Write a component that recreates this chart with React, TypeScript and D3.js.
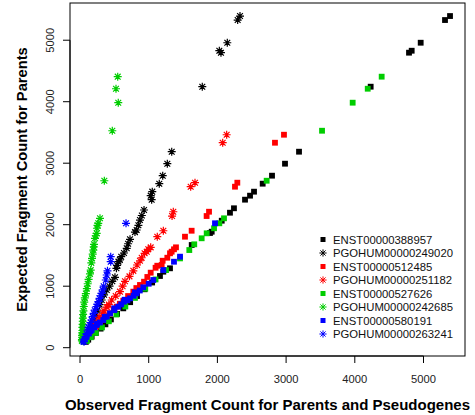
import React from "react";
import * as d3 from "d3";

const W = 475;
const H = 415;

const xTicks = [0, 1000, 2000, 3000, 4000, 5000];
const yTicks = [0, 1000, 2000, 3000, 4000, 5000];

const xTitle = "Observed Fragment Count for Parents and Pseudogenes";
const yTitle = "Expected Fragment Count for Parents";

const seriesNames = [
  "ENST00000388957",
  "PGOHUM00000249020",
  "ENST00000512485",
  "PGOHUM00000251182",
  "ENST00000527626",
  "PGOHUM00000242685",
  "ENST00000580191",
  "PGOHUM00000263241",
];

// [observed, expected]
const ENST388957: [number, number][] = [
  [5386, 5393], [5313, 5328], [4959, 4959], [4828, 4829], [4789, 4797], [4231, 4244],
  [3188, 3187], [2984, 2992], [2795, 2797], [2659, 2667], [2533, 2537], [2475, 2472],
  [2402, 2407], [2241, 2267], [2183, 2195], [2063, 2065], [1917, 1886], [1892, 1865],
  [1626, 1670], [1310, 1291], [1213, 1236], [1164, 1166], [1050, 1060], [940, 950],
  [830, 840], [730, 740], [630, 640], [540, 550], [450, 460], [370, 380], [300, 310],
  [230, 240], [170, 180], [120, 130], [85, 95],
];

const PGOHUM249020: [number, number][] = [
  [2329, 5393], [2295, 5328], [2144, 4959], [2028, 4829], [2052, 4797], [1780, 4244],
  [1335, 3187], [1271, 2992], [1204, 2797], [1154, 2667], [1052, 2537], [1029, 2472],
  [1043, 2407], [932, 2239], [900, 2150], [873, 2076], [850, 1990], [825, 1914],
  [800, 1880], [728, 1763], [700, 1690], [680, 1616], [640, 1540], [600, 1480],
  [580, 1426], [560, 1400], [540, 1340], [530, 1291], [509, 1145], [470, 1080],
  [430, 1000], [389, 938], [350, 860], [316, 776], [285, 700], [255, 613], [230, 530],
  [210, 450], [185, 390], [160, 340], [140, 290], [120, 250], [100, 200], [85, 160],
  [70, 110],
];

const ENST512485: [number, number][] = [
  [2969, 3463], [2838, 3333], [2290, 2683], [2256, 2618], [1878, 2211], [1843, 2141],
  [1625, 1902], [1528, 1805], [1397, 1632], [1368, 1600], [1334, 1561], [1310, 1535],
  [1271, 1463], [1203, 1414], [1189, 1345], [1125, 1333], [1100, 1300], [1029, 1220],
  [980, 1150], [932, 1073], [873, 1020], [820, 970], [776, 911], [700, 840], [630, 764],
  [580, 715], [534, 667], [490, 610], [437, 559], [390, 505], [339, 450], [290, 395],
  [243, 341], [200, 300], [156, 260], [120, 210], [95, 170],
];

const PGOHUM251182: [number, number][] = [
  [2135, 3463], [2077, 3333], [1674, 2683], [1611, 2618], [1358, 2211], [1340, 2141],
  [1213, 1902], [1125, 1805], [1029, 1632], [994, 1600], [971, 1561], [940, 1535],
  [898, 1463], [873, 1414], [830, 1345], [776, 1250], [720, 1160], [655, 1080],
  [620, 1000], [582, 911], [520, 840], [461, 776], [420, 700], [390, 660], [350, 600],
  [330, 560], [290, 500], [265, 450], [230, 400], [200, 340], [175, 300], [150, 260],
  [120, 210], [100, 170],
];

const ENST527626: [number, number][] = [
  [4391, 4407], [4188, 4211], [3969, 3984], [3523, 3528], [2717, 2715], [2096, 2104],
  [2028, 2023], [1951, 1942], [1844, 1860], [1771, 1779], [1663, 1681], [1591, 1588],
  [1456, 1452], [1252, 1262], [1100, 1110], [950, 960], [800, 810], [660, 670],
  [530, 540], [420, 430], [320, 330], [230, 240], [160, 170], [100, 110],
];

const PGOHUM242685: [number, number][] = [
  [549, 4407], [524, 4211], [557, 3984], [470, 3528], [354, 2715], [291, 2104],
  [266, 2023], [255, 1990], [247, 1942], [243, 1860], [230, 1820], [218, 1779],
  [204, 1681], [200, 1640], [194, 1588], [185, 1520], [175, 1452], [165, 1380],
  [156, 1262], [145, 1200], [125, 1110], [112, 1040], [100, 960], [85, 880], [70, 810],
  [62, 740], [55, 670], [50, 600], [45, 540], [42, 480], [40, 430], [38, 380],
  [35, 330], [35, 280], [32, 240], [30, 200], [30, 170], [28, 130], [28, 110],
];

const ENST580191: [number, number][] = [
  [1965, 2023], [1456, 1480], [1368, 1398], [1213, 1263], [1067, 1101], [1000, 1040],
  [921, 982], [870, 930], [825, 884], [800, 900], [780, 845], [728, 803], [690, 770],
  [650, 780], [640, 748], [600, 705], [558, 667], [500, 640], [500, 610], [437, 559],
  [390, 505], [360, 500], [339, 450], [290, 410], [250, 390], [243, 369], [210, 330],
  [170, 288], [150, 270], [130, 230], [97, 179], [70, 140], [48, 98],
];

const PGOHUM263241: [number, number][] = [
  [670, 2023], [447, 1480], [447, 1398], [400, 1250], [389, 1182], [375, 1101],
  [345, 1000], [330, 940], [315, 884], [300, 845], [285, 803], [270, 748], [255, 705],
  [240, 667], [215, 610], [200, 559], [185, 505], [170, 450], [155, 410], [140, 369],
  [125, 330], [112, 288], [95, 230], [82, 179], [70, 140], [58, 98],
];

const seriesData = [
  ENST388957, PGOHUM249020, ENST512485, PGOHUM251182,
  ENST527626, PGOHUM242685, ENST580191, PGOHUM263241,
];
const seriesColors = ["#000000", "#000000", "#FF0000", "#FF0000", "#00CD00", "#00CD00", "#0000FF", "#0000FF"];
const seriesShapes = ["square", "star", "square", "star", "square", "star", "square", "star"];

const FONT = "'Liberation Sans', Arial, Helvetica, sans-serif";

function starPath(r: number) {
  const d = r * 0.72;
  return `M${-r},0H${r}M0,${-r}V${r}M${-d},${-d}L${d},${d}M${-d},${d}L${d},${-d}`;
}

function Marker({ shape, color, cx, cy, sq = 5.8, r = 4, sw = 1.2 }: any) {
  if (shape === "square") {
    return <rect x={cx - sq / 2} y={cy - sq / 2} width={sq} height={sq} fill={color} />;
  }
  return (
    <path d={starPath(r)} transform={`translate(${cx},${cy})`} stroke={color} strokeWidth={sw} fill="none" />
  );
}

export default function App() {
  const x = d3.scaleLinear().domain([-145.6, 5604]).range([70, 465]);
  const y = d3.scaleLinear().domain([-135, 5605]).range([356, 3]);
  const [x0, x1] = x.range();
  const [y0, y1] = y.range();
  const legendX = 323;
  const legendY0 = 239.5;
  const legendStep = 13.5;

  return (
    <svg
      width={W}
      height={H}
      style={{ position: "absolute", left: 0, top: 0, display: "block", background: "#fff" }}
      fontFamily={FONT}
    >
      <rect x={0} y={0} width={W} height={H} fill="#fff" />
      {seriesData.map((pts, si) => (
        <g key={si}>
          {pts.map((p, i) => (
            <Marker key={i} shape={seriesShapes[si]} color={seriesColors[si]} cx={x(p[0])} cy={y(p[1])} />
          ))}
        </g>
      ))}
      {/* box */}
      <rect x={x0} y={y1} width={x1 - x0} height={y0 - y1} fill="none" stroke="#000" strokeWidth={1} />
      {/* x axis */}
      <line x1={x(xTicks[0])} x2={x(xTicks[xTicks.length - 1])} y1={y0} y2={y0} stroke="#000" />
      {xTicks.map((t) => (
        <g key={t}>
          <line x1={x(t)} x2={x(t)} y1={y0} y2={y0 + 7} stroke="#000" />
          <text x={x(t)} y={382.5} fontSize={11.2} textAnchor="middle" fill="#222">
            {t}
          </text>
        </g>
      ))}
      {/* y axis */}
      <line x1={x0} x2={x0} y1={y(yTicks[0])} y2={y(yTicks[yTicks.length - 1])} stroke="#000" />
      {yTicks.map((t) => (
        <g key={t}>
          <line x1={x0} x2={x0 - 7} y1={y(t)} y2={y(t)} stroke="#000" />
          <text
            transform={`translate(54,${y(t)}) rotate(-90)`}
            fontSize={11.2}
            textAnchor="middle"
            fill="#222"
          >
            {t}
          </text>
        </g>
      ))}
      <text x={(x0 + x1) / 2} y={409.5} fontSize={15} fontWeight="bold" textAnchor="middle" fill="#000">
        {xTitle}
      </text>
      <text
        transform={`translate(26.5,${(y0 + y1) / 2}) rotate(-90)`}
        fontSize={14.7}
        fontWeight="bold"
        textAnchor="middle"
        fill="#000"
      >
        {yTitle}
      </text>
      {/* legend */}
      {seriesNames.map((n, i) => (
        <g key={n}>
          <Marker
            shape={seriesShapes[i]}
            color={seriesColors[i]}
            cx={legendX}
            cy={legendY0 + i * legendStep}
            sq={5}
            r={3.6}
            sw={1}
          />
          <text x={333} y={legendY0 + i * legendStep + 4} fontSize={11.3} fill="#111">
            {n}
          </text>
        </g>
      ))}
    </svg>
  );
}
